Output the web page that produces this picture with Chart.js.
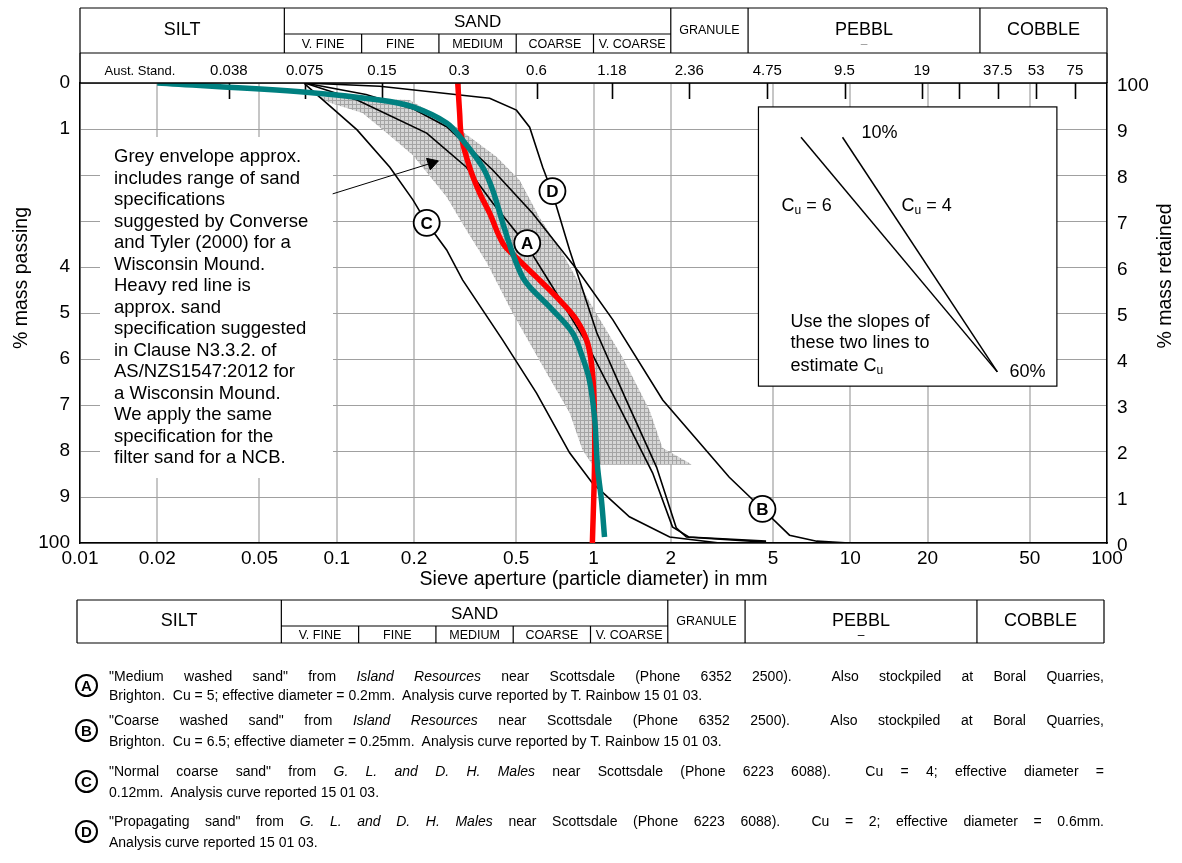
<!DOCTYPE html>
<html>
<head>
<meta charset="utf-8">
<title>Sand grading curves</title>
<script src="https://cdn.jsdelivr.net/npm/chart.js@4.4.0/dist/chart.umd.min.js"></script>
<style>
  html, body { margin: 0; padding: 0; background: #fff; }
  #wrap { position: relative; width: 1182px; height: 863px; overflow: hidden; }
  #chart { position: absolute; left: 0; top: 0; }
  .note { position: absolute; left: 109px; height: 20px; line-height: 20px; font-size: 14px;
          font-family: "Liberation Sans", Arial, sans-serif; white-space: nowrap; color: #000; }
  .tag { position: absolute; left: 75px; width: 19px; height: 19px; border: 2px solid #000; border-radius: 50%;
         font: bold 15px "Liberation Sans", Arial, sans-serif; line-height: 19px; text-align: center; }
</style>
</head>
<body>
<div id="wrap">
  <canvas id="chart" width="1182" height="863"></canvas>
</div>
<script>
// axes
const sizeTicks = [0.01, 0.02, 0.05, 0.1, 0.2, 0.5, 1, 2, 5, 10, 20, 50, 100];
const sizeTickLabels = ['0.01', '0.02', '0.05', '0.1', '0.2', '0.5', '1', '2', '5', '10', '20', '50', '100'];
const passTicks = [0, 10, 20, 30, 40, 50, 60, 70, 80, 90, 100];
const leftTickLabels = ['100', '9', '8', '7', '6', '5', '4', '', '', '1', '0'];
const rightTickLabels = ['0', '1', '2', '3', '4', '5', '6', '7', '8', '9', '100'];
const sieveSizes = [0.038, 0.075, 0.15, 0.3, 0.6, 1.18, 2.36, 4.75, 9.5, 19, 26.5, 37.5, 53, 75];
const sieveLabels = ['0.038', '0.075', '0.15', '0.3', '0.6', '1.18', '2.36', '4.75', '9.5', '19', '', '37.5', '53', '75'];

// grade classes
const gradeNames = ['SILT', 'SAND', 'GRANULE', 'PEBBL', 'COBBLE'];
const gradeBounds = [0.01, 0.0625, 2, 4, 32, 100];
const sandNames = ['V. FINE', 'FINE', 'MEDIUM', 'COARSE', 'V. COARSE'];
const sandBounds = [0.0625, 0.125, 0.25, 0.5, 1, 2];

// grey envelope (closed outline)
const envMm = [0.0836, 0.192, 0.293, 0.42, 0.515, 0.617, 0.757, 0.991, 1.297, 1.652, 1.855, 2.36, 2.41,
               0.991, 0.906, 0.807, 0.656, 0.484, 0.384, 0.32, 0.268, 0.198, 0.157, 0.126, 0.094];
const envPass = [97.0, 96.3, 90.4, 83.9, 78.9, 70.7, 63.0, 51.3, 40.4, 28.9, 20.7, 17.4, 17.0,
                 17.0, 20.2, 28.3, 37.0, 50.0, 60.9, 68.0, 75.2, 84.3, 89.1, 93.5, 95.7];

// sand analyses
const sandAMm = [0.075, 0.12, 0.224, 0.32, 0.405, 0.548, 0.692, 0.939, 1.26, 1.7, 2.03, 2.35, 4.7];
const sandAPass = [100, 96.3, 89.1, 81.7, 73.9, 64.8, 55.7, 43.5, 29.6, 15.2, 3.5, 1.3, 0.4];
const sandBMm = [0.075, 0.13, 0.2, 0.268, 0.405, 0.579, 0.883, 1.19, 1.86, 3.38, 4.55, 5.8, 7.4, 9.9];
const sandBPass = [100, 97.5, 94.3, 90.5, 81.1, 71.7, 58.7, 48.5, 31.1, 14.3, 7.4, 1.7, 0.4, 0];
const sandCMm = [0.075, 0.12, 0.161, 0.198, 0.224, 0.268, 0.309, 0.443, 0.6, 0.807, 0.991, 1.38, 1.98, 3.1];
const sandCPass = [99.8, 89.8, 81.7, 74.6, 69.6, 63.7, 57.2, 44.1, 32.6, 19.6, 13.0, 5.7, 1.3, 0];
const sandDMm = [0.075, 0.147, 0.394, 0.501, 0.564, 0.634, 0.692, 0.807, 1.03, 1.34, 1.76, 2.1, 2.3, 4.7];
const sandDPass = [100, 99.3, 96.7, 94.1, 90.4, 81.7, 76.1, 63.7, 45.7, 31.1, 16.5, 3.3, 1.3, 0.2];

// specification lines
const tealMm = [0.02, 0.076, 0.147, 0.198, 0.268, 0.309, 0.37, 0.405, 0.443, 0.484, 0.529, 0.564,
                0.692, 0.828, 0.906, 0.964, 1.009, 1.037, 1.074, 1.104];
const tealPass = [100, 98.0, 96.3, 94.8, 91.3, 87.6, 81.7, 76.7, 69.6, 63.0, 57.8, 55.7,
                  50.7, 45.7, 40.4, 35.4, 27.4, 16.5, 9.3, 1.3];
const redMm = [0.296, 0.301, 0.306, 0.329, 0.36, 0.394, 0.443, 0.501, 0.6, 0.738, 0.859, 0.948, 0.991, 1.009, 1.009, 0.99];
const redPass = [100, 93.5, 88.3, 81.7, 76.1, 71.7, 65.2, 62.0, 57.8, 52.8, 48.5, 43.5, 37.0, 27.4, 16.5, 0];

// circled labels on the curves
const markerLetters = ['A', 'B', 'C', 'D'];
const markerMm = [0.552, 4.55, 0.224, 0.692];
const markerPass = [65.2, 7.4, 69.6, 76.5];

// Cu guide lines (D10 -> D60)
const cu6Mm = [6.43, 37.4];
const cu4Mm = [9.33, 37.4];
const cuPass = [88.2, 37.2];

// arrow from the note to the envelope
const arrowMm = [0.0964, 0.2344];
const arrowPass = [75.9, 82.6];

const envNote = ['Grey envelope approx.', 'includes range of sand', 'specifications', 'suggested by Converse',
  'and Tyler (2000) for a', 'Wisconsin Mound.', 'Heavy red line is', 'approx. sand', 'specification suggested',
  'in Clause N3.3.2. of', 'AS/NZS1547:2012 for', 'a Wisconsin Mound.', 'We apply the same',
  'specification for the', 'filter sand for a NCB.'];

const noteTags = ['A', 'B', 'C', 'D'];
const noteFirst = [
  '"Medium washed sand" from <i>Island Resources</i> near Scottsdale (Phone 6352 2500).&nbsp; Also stockpiled at Boral Quarries,',
  '"Coarse washed sand" from <i>Island Resources</i> near Scottsdale (Phone 6352 2500).&nbsp; Also stockpiled at Boral Quarries,',
  '"Normal coarse sand" from <i>G. L. and D. H. Males</i> near Scottsdale (Phone 6223 6088).&nbsp; Cu = 4; effective diameter =',
  '"Propagating sand" from <i>G. L. and D. H. Males</i> near Scottsdale (Phone 6223 6088).&nbsp; Cu = 2; effective diameter = 0.6mm.'
];
const noteSecond = [
  'Brighton.&nbsp; Cu = 5; effective diameter = 0.2mm.&nbsp; Analysis curve reported by T. Rainbow 15 01 03.',
  'Brighton.&nbsp; Cu = 6.5; effective diameter = 0.25mm.&nbsp; Analysis curve reported by T. Rainbow 15 01 03.',
  '0.12mm.&nbsp; Analysis curve reported 15 01 03.',
  'Analysis curve reported 15 01 03.'
];
const noteLineY = [[676, 695], [720, 741], [771, 792], [821, 842]];

const FONT = '"Liberation Sans", Arial, sans-serif';
Chart.defaults.font.family = FONT;
Chart.defaults.color = '#000';

const pts = (xs, ys) => xs.map((x, i) => ({x: x, y: ys[i]}));

function hatch() {
  const c = document.createElement('canvas');
  c.width = 4; c.height = 4;
  const g = c.getContext('2d');
  g.fillStyle = '#d6d6d6'; g.fillRect(0, 0, 4, 4);
  g.fillStyle = '#a4a4a4'; g.fillRect(0, 0, 4, 1); g.fillRect(0, 0, 1, 4);
  return g.createPattern(c, 'repeat');
}

function curve(label, xs, ys, color, width, extra) {
  return Object.assign({label: label, data: pts(xs, ys), borderColor: color, borderWidth: width,
    pointRadius: 0, fill: false, tension: 0}, extra || {});
}

function txt(ctx, s, x, y, size, align, weight) {
  ctx.font = (weight || '') + ' ' + size + 'px ' + FONT;
  ctx.textAlign = align || 'center';
  ctx.textBaseline = 'middle';
  ctx.fillText(s, x, y);
}

// "C" with subscript u, then the rest
function cuText(ctx, x, y, rest) {
  txt(ctx, 'C', x, y, 18, 'left');
  let w = ctx.measureText('C').width;
  txt(ctx, 'u', x + w, y + 5, 12, 'left');
  w += ctx.measureText('u').width;
  if (rest) txt(ctx, rest, x + w, y, 18, 'left');
}

function drawGrades(ctx, xs, top, mid, bot, dashColor) {
  const L = xs(gradeBounds[0]), R = xs(gradeBounds[gradeBounds.length - 1]);
  ctx.strokeStyle = '#000';
  ctx.lineWidth = 1.2;
  ctx.beginPath();
  ctx.moveTo(L, top); ctx.lineTo(R, top);
  ctx.moveTo(L, bot); ctx.lineTo(R, bot);
  gradeBounds.forEach(b => { ctx.moveTo(xs(b), top); ctx.lineTo(xs(b), bot); });
  ctx.moveTo(xs(sandBounds[0]), mid); ctx.lineTo(xs(sandBounds[sandBounds.length - 1]), mid);
  sandBounds.forEach(b => { ctx.moveTo(xs(b), mid); ctx.lineTo(xs(b), bot); });
  ctx.stroke();
  ctx.fillStyle = '#000';
  const sizes = [18, 17, 12.5, 18, 18];
  gradeNames.forEach((n, i) => {
    const cx = (xs(gradeBounds[i]) + xs(gradeBounds[i + 1])) / 2;
    const cy = n === 'SAND' ? (top + mid) / 2 + 1 : (top + bot) / 2;
    txt(ctx, n, cx, cy, sizes[i]);
    if (n === 'PEBBL') {
      ctx.fillStyle = dashColor;
      txt(ctx, '\u2013', cx, (mid + bot) / 2 + 1, 12);
      ctx.fillStyle = '#000';
    }
  });
  sandNames.forEach((n, i) => {
    const cx = (xs(sandBounds[i]) + xs(sandBounds[i + 1])) / 2;
    txt(ctx, n, cx, (mid + bot) / 2 + 1, 12.5);
  });
}

const decor = {
  id: 'decor',
  beforeDatasetsDraw(chart) {
    const ctx = chart.ctx, a = chart.chartArea, sx = chart.scales.x;
    ctx.save();
    // note block on white
    ctx.fillStyle = '#fff';
    ctx.fillRect(100, 137, 233, 341);
    ctx.fillStyle = '#000';
    envNote.forEach((s, i) => txt(ctx, s, 114, 157 + i * 21.5, 18.5, 'left'));
    // Cu box
    const bx0 = sx.getPixelForValue(4.39), bx1 = sx.getPixelForValue(63.8);
    const by0 = chart.scales.y.getPixelForValue(94.8), by1 = chart.scales.y.getPixelForValue(34.1);
    ctx.fillStyle = '#fff';
    ctx.fillRect(bx0, by0, bx1 - bx0, by1 - by0);
    ctx.strokeStyle = '#000'; ctx.lineWidth = 1.2;
    ctx.strokeRect(bx0, by0, bx1 - bx0, by1 - by0);
    ctx.fillStyle = '#000';
    txt(ctx, '10%', bx0 + 121, by0 + 26, 18);
    cuText(ctx, bx0 + 23, by0 + 99, ' = 6');
    cuText(ctx, bx0 + 143, by0 + 99, ' = 4');
    txt(ctx, 'Use the slopes of', bx0 + 32, by0 + 215, 18, 'left');
    txt(ctx, 'these two lines to', bx0 + 32, by0 + 236, 18, 'left');
    txt(ctx, 'estimate ', bx0 + 32, by0 + 259, 18, 'left');
    cuText(ctx, bx0 + 32 + ctx.measureText('estimate ').width, by0 + 259, '');
    txt(ctx, '60%', bx0 + 251, by0 + 265, 18, 'left');
    // sieve marks along the top
    ctx.strokeStyle = '#000'; ctx.lineWidth = 1.6;
    ctx.beginPath();
    sieveSizes.forEach(s => {
      const x = Math.round(sx.getPixelForValue(s)) + 0.5;
      ctx.moveTo(x, a.top); ctx.lineTo(x, a.top + 16);
    });
    ctx.stroke();
    ctx.restore();
  },
  afterDatasetsDraw(chart) {
    const ctx = chart.ctx;
    ctx.save();
    ctx.fillStyle = '#000';
    chart.getDatasetMeta(0).data.forEach((p, i) => txt(ctx, markerLetters[i], p.x, p.y + 1, 17, 'center', 'bold'));
    ctx.restore();
  },
  afterDraw(chart) {
    const ctx = chart.ctx, a = chart.chartArea, sx = chart.scales.x;
    ctx.save();
    const xs = mm => sx.getPixelForValue(mm);
    drawGrades(ctx, xs, 8, 34, 53, '#999');
    drawGrades(ctx, mm => xs(mm) - 3, 600, 626, 643, '#000');
    ctx.strokeStyle = '#000'; ctx.lineWidth = 1.5;
    ctx.beginPath();
    ctx.moveTo(a.left, 53); ctx.lineTo(a.left, a.top);
    ctx.moveTo(a.right, 53); ctx.lineTo(a.right, a.top);
    ctx.moveTo(a.left, a.top); ctx.lineTo(a.right, a.top);
    ctx.stroke();
    ctx.fillStyle = '#000';
    txt(ctx, 'Aust. Stand.', 140, 71, 13);
    // vertical axis titles
    ctx.translate(22, 278); ctx.rotate(-Math.PI / 2);
    txt(ctx, '% mass passing', 0, 0, 19.5);
    ctx.setTransform(1, 0, 0, 1, 0, 0);
    ctx.translate(1166, 276); ctx.rotate(-Math.PI / 2);
    txt(ctx, '% mass retained', 0, 0, 19.5);
    ctx.restore();
  }
};

new Chart(document.getElementById('chart'), {
  type: 'line',
  data: {
    datasets: [
      {label: 'markers', data: pts(markerMm, markerPass), showLine: false, pointRadius: 13,
       pointBackgroundColor: '#fff', pointBorderColor: '#000', pointBorderWidth: 1.8, order: 1},
      curve('teal spec', tealMm, tealPass, '#008080', 5.5, {tension: 0.35, order: 2}),
      curve('red spec', redMm, redPass, '#ff0000', 5.5, {tension: 0.35, order: 3}),
      {label: 'arrow', data: pts(arrowMm, arrowPass), borderColor: '#000', borderWidth: 1,
       pointRadius: [0, 7], pointStyle: 'triangle', pointRotation: 72,
       pointBackgroundColor: '#000', pointBorderColor: '#000', order: 4},
      curve('A', sandAMm, sandAPass, '#000', 1.6, {order: 5}),
      curve('B', sandBMm, sandBPass, '#000', 1.6, {order: 5}),
      curve('C', sandCMm, sandCPass, '#000', 1.6, {order: 5}),
      curve('D', sandDMm, sandDPass, '#000', 1.6, {order: 5}),
      curve('Cu 6', cu6Mm, cuPass, '#000', 1.5, {order: 5}),
      curve('Cu 4', cu4Mm, cuPass, '#000', 1.5, {order: 5}),
      {label: 'envelope', data: pts(envMm, envPass), fill: 'shape', backgroundColor: hatch(),
       borderWidth: 0, borderColor: 'rgba(0,0,0,0)', pointRadius: 0, order: 9}
    ]
  },
  options: {
    responsive: false,
    devicePixelRatio: 1,
    animation: false,
    events: [],
    layout: {padding: 0},
    plugins: {legend: {display: false}, tooltip: {enabled: false}},
    scales: {
      x: {
        type: 'logarithmic', position: 'bottom', min: 0.01, max: 100,
        afterBuildTicks: s => { s.ticks = sizeTicks.map(v => ({value: v})); },
        afterFit: s => { s.height = 320; },
        ticks: {autoSkip: false, maxRotation: 0, font: {size: 19}, padding: 4,
                callback: (v, i) => sizeTickLabels[i]},
        grid: {color: '#c6c6c6', lineWidth: 2, drawTicks: false},
        border: {color: '#000', width: 1.5},
        title: {display: true, text: 'Sieve aperture (particle diameter) in mm', font: {size: 19.5},
                padding: {top: 0, bottom: 272}}
      },
      xTop: {
        type: 'logarithmic', position: 'top', min: 0.01, max: 100,
        afterBuildTicks: s => { s.ticks = sieveSizes.map(v => ({value: v})); },
        afterFit: s => { s.height = 83; },
        ticks: {autoSkip: false, maxRotation: 0, font: {size: 15}, padding: 3,
                callback: (v, i) => sieveLabels[i]},
        grid: {display: false, drawTicks: false},
        border: {display: false}
      },
      y: {
        type: 'linear', position: 'left', min: 0, max: 100,
        afterBuildTicks: s => { s.ticks = passTicks.map(v => ({value: v})); },
        afterFit: s => { s.width = 80; },
        ticks: {font: {size: 19}, padding: 10, callback: (v, i) => leftTickLabels[i]},
        grid: {color: '#a0a0a0', lineWidth: 1, drawTicks: false},
        border: {color: '#000', width: 1.5}
      },
      y2: {
        type: 'linear', position: 'right', min: 0, max: 100,
        afterBuildTicks: s => { s.ticks = passTicks.map(v => ({value: v})); },
        afterFit: s => { s.width = 75; },
        ticks: {font: {size: 19}, padding: 10, labelOffset: 3, callback: (v, i) => rightTickLabels[i]},
        grid: {drawOnChartArea: false, drawTicks: false},
        border: {color: '#000', width: 1.5}
      }
    }
  },
  plugins: [decor]
});

// notes under the chart
const wrap = document.getElementById('wrap');
noteTags.forEach((t, i) => {
  const [y1, y2] = noteLineY[i];
  const tag = document.createElement('div');
  tag.className = 'tag';
  tag.textContent = t;
  tag.style.top = ((y1 + y2) / 2 - 11.5) + 'px';
  wrap.appendChild(tag);
  [noteFirst[i], noteSecond[i]].forEach((html, k) => {
    const d = document.createElement('div');
    d.className = 'note';
    d.style.top = ((k === 0 ? y1 : y2) - 10) + 'px';
    d.innerHTML = html;
    wrap.appendChild(d);
    if (k === 0) {
      // stretch the first line across the full text width
      const w = d.getBoundingClientRect().width;
      const gaps = (d.textContent.match(/[ \u00a0]/g) || []).length;
      d.style.wordSpacing = ((995 - w) / gaps) + 'px';
    }
  });
});
</script>
</body>
</html>
